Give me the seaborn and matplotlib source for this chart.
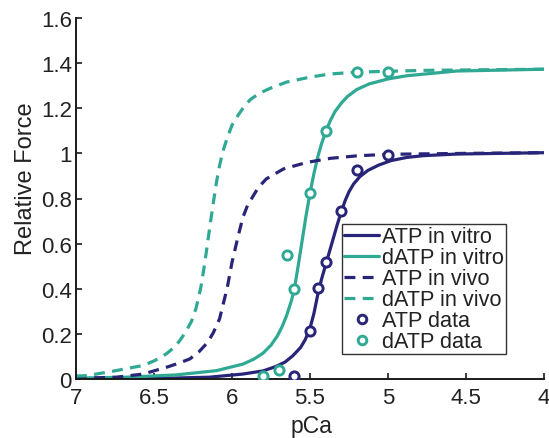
import matplotlib
matplotlib.use("Agg")
import matplotlib.pyplot as plt
from matplotlib.lines import Line2D
import seaborn as sns
import pandas as pd

# Model curves (pCa, relative force)
atp_vitro_pca = [7.0, 6.57, 6.145, 5.93, 5.80, 5.72, 5.66, 5.61, 5.56, 5.53, 5.50, 5.475,
                 5.45, 5.425, 5.40, 5.375, 5.35, 5.325, 5.30, 5.275, 5.25, 5.22, 5.18, 5.13,
                 5.06, 4.98, 4.88, 4.77, 4.56, 4.0]
atp_vitro_f = [0.0, 0.001, 0.008, 0.022, 0.036, 0.055, 0.075, 0.103, 0.140, 0.175, 0.225, 0.290,
               0.375, 0.445, 0.505, 0.565, 0.625, 0.685, 0.740, 0.790, 0.830, 0.865, 0.897, 0.924,
               0.948, 0.968, 0.982, 0.990, 0.997, 1.003]

datp_vitro_pca = [7.0, 6.68, 6.36, 6.10, 5.93, 5.86, 5.80, 5.75, 5.71, 5.68, 5.65, 5.62,
                  5.60, 5.575, 5.55, 5.525, 5.50, 5.475, 5.45, 5.425, 5.40, 5.37, 5.34, 5.30,
                  5.26, 5.20, 5.12, 5.00, 4.88, 4.56, 4.0]
datp_vitro_f = [0.004, 0.008, 0.018, 0.037, 0.066, 0.088, 0.115, 0.150, 0.190, 0.230, 0.281, 0.345,
                0.400, 0.505, 0.615, 0.725, 0.824, 0.910, 0.985, 1.045, 1.095, 1.145, 1.185, 1.222,
                1.252, 1.283, 1.308, 1.330, 1.344, 1.365, 1.373]

atp_vivo_pca = [7.0, 6.94, 6.74, 6.57, 6.42, 6.35, 6.27, 6.21, 6.155, 6.12, 6.08, 6.03,
                6.00, 5.96, 5.93, 5.90, 5.86, 5.83, 5.78, 5.67, 5.52, 5.37, 5.20, 5.00,
                4.50, 4.0]
atp_vivo_f = [0.003, 0.004, 0.008, 0.022, 0.052, 0.068, 0.089, 0.122, 0.163, 0.205, 0.266, 0.406,
              0.517, 0.635, 0.717, 0.770, 0.816, 0.850, 0.887, 0.931, 0.960, 0.978, 0.989, 0.996,
              1.0, 1.003]

datp_vivo_pca = [7.0, 6.93, 6.76, 6.57, 6.50, 6.46, 6.42, 6.38, 6.34, 6.30, 6.26, 6.23,
                 6.20, 6.18, 6.16, 6.14, 6.12, 6.10, 6.08, 6.06, 6.03, 6.00, 5.96, 5.92,
                 5.88, 5.82, 5.75, 5.65, 5.50, 5.37, 5.20, 4.77, 4.0]
datp_vivo_f = [0.013, 0.015, 0.035, 0.060, 0.080, 0.095, 0.112, 0.135, 0.165, 0.205, 0.255, 0.315,
               0.405, 0.490, 0.585, 0.685, 0.780, 0.870, 0.945, 1.005, 1.070, 1.125, 1.170, 1.210,
               1.240, 1.268, 1.290, 1.316, 1.338, 1.352, 1.360, 1.368, 1.373]

# Measured data
atp_data_pca = [5.0, 5.2, 5.3, 5.4, 5.45, 5.5, 5.6]
atp_data_f = [0.993, 0.928, 0.746, 0.517, 0.402, 0.211, 0.012]
datp_data_pca = [5.0, 5.2, 5.4, 5.5, 5.6, 5.65, 5.7, 5.8]
datp_data_f = [1.362, 1.362, 1.10, 0.824, 0.40, 0.55, 0.041, 0.015]

x_ticks = [7, 6.5, 6, 5.5, 5, 4.5, 4]
x_ticklabels = ["7", "6.5", "6", "5.5", "5", "4.5", "4"]
y_ticks = [0, 0.2, 0.4, 0.6, 0.8, 1.0, 1.2, 1.4, 1.6]
y_ticklabels = ["0", "0.2", "0.4", "0.6", "0.8", "1", "1.2", "1.4", "1.6"]

NAVY = "#282579"
TEAL = "#2fa993"

sns.set_theme(style="ticks")
plt.rcParams["font.family"] = ["Liberation Sans", "DejaVu Sans"]

W, H = 549, 439
fig = plt.figure(figsize=(W / 100, H / 100), dpi=100)
ax = fig.add_axes([76 / W, 1 - 380 / H, (544 - 76) / W, (380 - 19) / H])

LW = 2.3
DASH = (3.4, 2.3)

curves = [
    (atp_vitro_pca, atp_vitro_f, NAVY, "-"),
    (datp_vitro_pca, datp_vitro_f, TEAL, "-"),
    (atp_vivo_pca, atp_vivo_f, NAVY, "--"),
    (datp_vivo_pca, datp_vivo_f, TEAL, "--"),
]
for xs, ys, col, ls in curves:
    df = pd.DataFrame({"pCa": xs, "F": ys})
    line_kw = dict(color=col, lw=LW, estimator=None, sort=False, ax=ax,
                   solid_capstyle="butt", dash_capstyle="butt", solid_joinstyle="round")
    if ls == "--":
        line_kw["dashes"] = DASH
    sns.lineplot(data=df, x="pCa", y="F", **line_kw)

for xs, ys, col in [(atp_data_pca, atp_data_f, NAVY), (datp_data_pca, datp_data_f, TEAL)]:
    df = pd.DataFrame({"pCa": xs, "F": ys})
    sns.scatterplot(data=df, x="pCa", y="F", ax=ax, marker="o", s=44,
                    facecolor="white", edgecolor=col, linewidth=2.1, zorder=5)

ax.set_xlim(7, 4)
ax.set_ylim(0, 1.6)
ax.set_xticks(x_ticks)
ax.set_xticklabels(x_ticklabels)
ax.set_yticks(y_ticks)
ax.set_yticklabels(y_ticklabels)
ax.set_xlabel("")
ax.set_ylabel("")

for side in ["top", "right"]:
    ax.spines[side].set_visible(False)
for side in ["left", "bottom"]:
    ax.spines[side].set_linewidth(1.4)
    ax.spines[side].set_color("#1a1a1a")
ax.tick_params(direction="in", length=4, width=1.2, colors="#1a1a1a",
               labelsize=16, labelcolor="#222222")
ax.tick_params(axis="x", pad=6)
ax.tick_params(axis="y", pad=3)

fig.text(26 / W, 1 - 179 / H, "Relative Force", rotation=90, ha="center", va="center",
         fontsize=17, color="#222222")
fig.text(312 / W, 1 - 433 / H, "pCa", ha="center", va="baseline",
         fontsize=16.5, color="#222222")

handles = [
    Line2D([], [], color=NAVY, lw=LW, label="ATP in vitro"),
    Line2D([], [], color=TEAL, lw=LW, label="dATP in vitro"),
    Line2D([], [], color=NAVY, lw=LW, dashes=DASH, label="ATP in vivo"),
    Line2D([], [], color=TEAL, lw=LW, dashes=DASH, label="dATP in vivo"),
    Line2D([], [], color=NAVY, lw=0, marker="o", markersize=6.2, mfc="white",
           mec=NAVY, mew=2.1, label="ATP data"),
    Line2D([], [], color=TEAL, lw=0, marker="o", markersize=6.2, mfc="white",
           mec=TEAL, mew=2.1, label="dATP data"),
]
leg = ax.legend(handles=handles, loc="upper left",
                bbox_to_anchor=(342 / W, 1 - 225 / H), bbox_transform=fig.transFigure,
                borderaxespad=0, fontsize=15.6, frameon=True, fancybox=False,
                framealpha=1, edgecolor="#333333", handlelength=1.6,
                handletextpad=0.15, labelspacing=0.0, borderpad=0.1, numpoints=1)
leg.get_frame().set_linewidth(1.0)
for t in leg.get_texts():
    t.set_color("#222222")

fig.savefig("out.png", dpi=100)
